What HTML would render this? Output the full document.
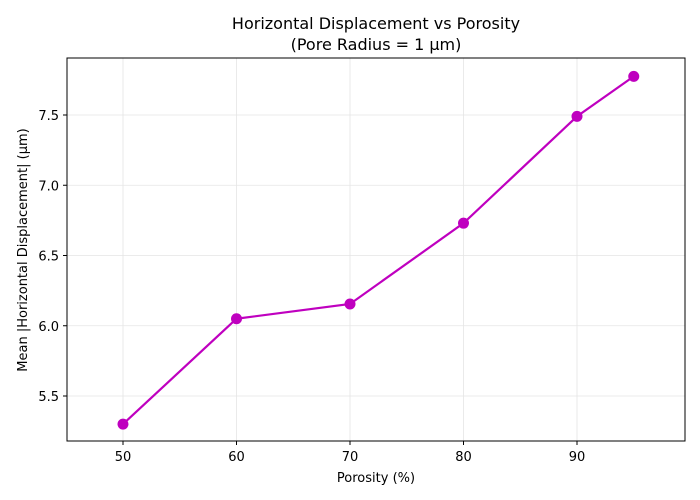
<!DOCTYPE html>
<html><head><meta charset="utf-8"><style>
body{margin:0;background:#fff;}
svg{display:block;font-family:"DejaVu Sans","Liberation Sans",sans-serif;}
</style></head><body>
<svg id="chart" width="700" height="500">
<text x="376" y="29" font-size="16" text-anchor="middle">Horizontal Displacement vs Porosity</text>
<text x="376" y="50" font-size="16" text-anchor="middle">(Pore Radius = 1 µm)</text>
<g id="grid"></g>
<rect x="67" y="58" width="618" height="383" fill="none" stroke="#000" stroke-width="1"/>
<g id="xt"></g>
<g id="yt"></g>
<text x="376" y="482" font-size="13" text-anchor="middle">Porosity (%)</text>
<text x="27" y="250" font-size="13" text-anchor="middle" transform="rotate(-90 27 250)">Mean |Horizontal Displacement| (µm)</text>
<g id="series"></g>
</svg>
<script>
const porosity=[50,60,70,80,90,95];
const displacement=[5.30,6.05,6.155,6.73,7.49,7.775];
const xTicks=[50,60,70,80,90];
const yTicks=[5.5,6.0,6.5,7.0,7.5];
const NS="http://www.w3.org/2000/svg";
function X(v){return 123+(v-50)*11.35;}
function Y(v){return 396-(v-5.5)*140.5;}
function mk(t,a,p){const e=document.createElementNS(NS,t);for(const k in a)e.setAttribute(k,a[k]);p.appendChild(e);return e;}
const g=document.getElementById('grid'),xt=document.getElementById('xt'),yt=document.getElementById('yt'),s=document.getElementById('series');
xTicks.forEach(v=>{
 const l=mk('line',{x1:X(v),x2:X(v),y1:58,y2:441,stroke:'#e5e5e5','stroke-width':0.8},g);
 
 
 const t=mk('line',{x1:X(v),x2:X(v),y1:441,y2:445,stroke:'#000'},xt);
 
 
 const tx=mk('text',{x:X(v),y:461,'font-size':13,'text-anchor':'middle'},xt);tx.textContent=v;
 
 
});
yTicks.forEach(v=>{
 const l=mk('line',{x1:67,x2:685,y1:Y(v),y2:Y(v),stroke:'#e5e5e5','stroke-width':0.8},g);
 
 
 const t=mk('line',{x1:63,x2:67,y1:Y(v),y2:Y(v),stroke:'#000'},yt);
 
 
 const tx=mk('text',{x:59,y:Y(v)+5,'font-size':13,'text-anchor':'end'},yt);tx.textContent=v.toFixed(1);
 
 
});
const pl=mk('polyline',{points:porosity.map((p,i)=>X(p)+','+Y(displacement[i])).join(' '),fill:'none',stroke:'#bf00bf','stroke-width':2.2},s);


porosity.forEach((p,i)=>{
 const c=mk('circle',{cx:X(p),cy:Y(displacement[i]),r:5.5,fill:'#bf00bf'},s);
 
 
});
</script>
</body></html>
